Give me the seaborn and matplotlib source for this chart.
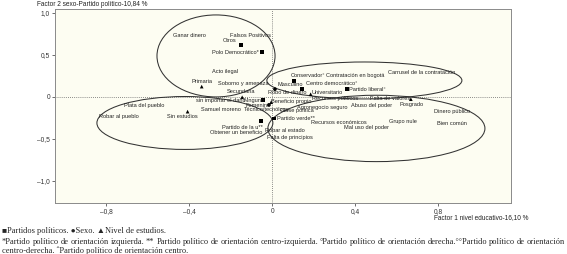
import matplotlib
matplotlib.use("Agg")
import numpy as np
import pandas as pd
import matplotlib.pyplot as plt
import seaborn as sns
from matplotlib.patches import Ellipse

# Categories with a marker (partidos, sexo, nivel de estudios)
point_names = ["Otros", "Polo Democrático*", "Conservador°", "Centro democrático°",
               "Partido liberal°", "Partido verde**", "Partido de la u**", "Ninguno",
               "Masculino", "Femenino",
               "Primaria", "Secundaria", "Sin estudios", "Universitario", "Posgrado",
               "Técnico/tecnólogo"]
point_x = [-0.153, -0.052, 0.105, 0.144, 0.358, 0.007, -0.055, -0.044,
           0.012, -0.017,
           -0.341, -0.146, -0.409, 0.184, 0.667, -0.006]
point_y = [0.615, 0.532, 0.190, 0.092, 0.092, -0.258, -0.286, -0.039,
           0.092, -0.095,
           0.123, -0.004, -0.175, 0.032, -0.027, -0.062]
point_type = ["partido"] * 8 + ["sexo"] * 2 + ["estudio"] * 6

# Words (text only)
word_names = ["Ganar dinero", "Falsos Positivos", "Acto ilegal", "Soborno y amenaza",
              "Robo de dinero", "Beneficio propio", "Recursos públicos", "Falta de valores",
              "Abuso del poder", "Agronegocio seguro", "Clase política",
              "sin importar el daño", "Samuel moreno", "Plata del pueblo", "Robar al pueblo",
              "Obtener un beneficio", "Robar al estado", "Falta de principios",
              "Recursos económicos", "Mal uso del poder", "Grupo nule", "Dinero público",
              "Bien común", "Contratación en bogotá", "Carrusel de la contratación"]
word_x = [-0.398, -0.108, -0.229, -0.142, 0.070, 0.089, 0.301, 0.566, 0.480, 0.242,
          0.120, -0.248, -0.248, -0.619, -0.740, -0.176, 0.060, 0.084, 0.320, 0.451,
          0.629, 0.865, 0.865, 0.398, 0.720]
word_y = [0.726, 0.730, 0.298, 0.155, 0.048, -0.060, -0.018, -0.024, -0.107, -0.131,
          -0.167, -0.048, -0.155, -0.101, -0.238, -0.429, -0.405, -0.488, -0.310, -0.369,
          -0.298, -0.179, -0.321, 0.250, 0.286]

# Clusters drawn as ellipses
ell_cx = [-0.272, 0.443, -0.422, 0.501]
ell_cy = [0.488, 0.196, -0.310, -0.375]
ell_w = [0.569, 0.940, 0.848, 1.046]
ell_h = [0.976, 0.440, 0.630, 0.790]

x_ticks = [-0.8, -0.4, 0, 0.4, 0.8]
y_ticks = [-1.0, -0.5, 0, 0.5, 1.0]

# label placement for marked points: (dx, dy in points, ha)
label_pos = {
    "Otros": (-2.7, 3.3, "right"), "Polo Democrático*": (-2, 0, "right"),
    "Conservador°": (-2.2, 3.8, "left"), "Centro democrático°": (2.7, 3.8, "left"),
    "Partido liberal°": (1.7, 0, "left"), "Partido verde**": (2, 0, "left"),
    "Partido de la u**": (1.4, -4.8, "right"), "Ninguno": (1.2, -0.4, "right"),
    "Masculino": (2.2, 3.1, "left"), "Femenino": (1.4, -0.4, "right"),
    "Primaria": (0, 3.6, "center"), "Secundaria": (-0.6, 4.5, "center"),
    "Sin estudios": (-3.4, -3.8, "center"), "Universitario": (0.7, 1.4, "left"),
    "Posgrado": (0.7, -4.1, "center"), "Técnico/tecnólogo": (-3.4, -5.4, "center"),
}

df = pd.DataFrame({"name": point_names, "x": point_x, "y": point_y, "tipo": point_type})

sns.set_style("white")
plt.rcParams["font.family"] = ["Liberation Sans", "DejaVu Sans"]

fig = plt.figure(figsize=(5.67, 2.54), dpi=100)
ax = fig.add_axes([0.097, 0.201, 0.804, 0.764])
ax.set_facecolor("#fdfdf2")

ax.axhline(0, color="#666666", lw=0.6, ls=(0, (1, 1.5)), zorder=1)
ax.axvline(0, color="#666666", lw=0.6, ls=(0, (1, 1.5)), zorder=1)

for cx, cy, w, h in zip(ell_cx, ell_cy, ell_w, ell_h):
    ax.add_patch(Ellipse((cx, cy), w, h, fill=False, ec="#333333", lw=0.75, zorder=2))

sns.scatterplot(data=df, x="x", y="y", style="tipo",
                markers={"partido": "s", "sexo": "o", "estudio": "^"},
                color="black", s=7, linewidth=0, legend=False, ax=ax, zorder=3)

fs = 4.1
for n, x, y in zip(point_names, point_x, point_y):
    dx, dy, ha = label_pos[n]
    ax.annotate(n, (x, y), xytext=(dx, dy), textcoords="offset points",
                ha=ha, va="center", fontsize=fs, color="#222222")
for n, x, y in zip(word_names, word_x, word_y):
    ax.text(x, y, n, ha="center", va="center", fontsize=fs, color="#222222")

ax.set_xlim(-1.048, 1.149)
ax.set_ylim(-1.262, 1.048)
ax.set_xticks(x_ticks)
ax.set_yticks(y_ticks)
fmt = lambda v: "0" if v == 0 else f"{v:.1f}".replace(".", ",").replace("-", "–")
ax.set_xticklabels([fmt(v) for v in x_ticks])
ax.set_yticklabels([fmt(v) for v in y_ticks])
ax.tick_params(labelsize=4.8, length=2, width=0.5, pad=1.5, colors="#333333",
               left=True, bottom=True)
for s in ax.spines.values():
    s.set_color("#8a8a8a")
    s.set_linewidth(0.7)
ax.set_xlabel("")
ax.set_ylabel("")

fig.text(37 / 567, 1 - 5 / 254, "Factor 2 sexo-Partido político-10,84 %",
         fontsize=4.7, ha="left", va="center", color="#222222")
fig.text(434 / 567, 1 - 218 / 254, "Factor 1 nivel educativo-16,10 %",
         fontsize=4.7, ha="left", va="center", color="#222222")

# footnotes (serif)
serif = ["Liberation Serif", "DejaVu Serif"]
nfs = 6.0
fig.text(2 / 567, 1 - 231 / 254, "■Partidos políticos. ●Sexo. ▲Nivel de estudios.",
         fontsize=nfs, family=serif, ha="left", va="center")
line2 = ("*Partido político de orientación izquierda. ** Partido político de orientación "
         "centro-izquierda. °Partido político de orientación derecha.°°Partido político de "
         "orientación")
line3 = "centro-derecha. ˆPartido político de orientación centro."

# justify line 2 across the figure width
words = line2.split(" ")
renderer = fig.canvas.get_renderer()
widths = []
for w in words:
    t = fig.text(0, 0, w, fontsize=nfs, family=serif)
    widths.append(t.get_window_extent(renderer).width)
    t.remove()
left_px, right_px = 2, 565
gap = max((right_px - left_px - sum(widths)) / (len(words) - 1), 1.0)
xpos = left_px
for w, wd in zip(words, widths):
    fig.text(xpos / 567, 1 - 242 / 254, w, fontsize=nfs, family=serif, ha="left", va="center")
    xpos += wd + gap
fig.text(2 / 567, 1 - 251 / 254, line3, fontsize=nfs, family=serif, ha="left", va="center")

fig.savefig("out.png", dpi=100)
